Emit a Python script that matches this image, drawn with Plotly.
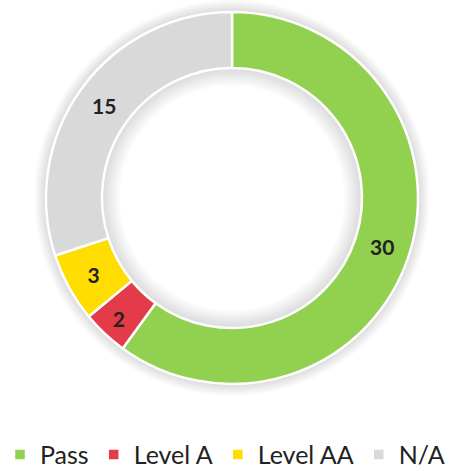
import plotly.graph_objects as go

labels = ["Pass", "Level A", "Level AA", "N/A"]
values = [30, 2, 3, 15]
colors = ["#92D050", "#E33B4A", "#FFDD00", "#D9D9D9"]

W, H = 450, 474
cx, cy, R, RIN = 232, 198, 186, 130


def dom(r):
    y0 = max(0.0, 1 - (cy + r) / H)
    y1 = min(1.0, 1 - (cy - r) / H)
    return dict(x=[(cx - r) / W, (cx + r) / W], y=[y0, y1])


fig = go.Figure()

# soft shadow rings (decorative)
n_layers = 12
for k in range(n_layers, 0, -1):
    ro = R + 1.0 * k
    ri = RIN - 1.5 * k
    fig.add_trace(go.Pie(
        labels=["shadow"], values=[sum(values)], hole=ri / ro, sort=False,
        marker=dict(colors=["rgba(0,0,0,0.011)"], line=dict(width=0)),
        textinfo="none", hoverinfo="skip", showlegend=False,
        domain=dom(ro),
    ))

fig.add_trace(go.Pie(
    labels=labels, values=values, sort=False, direction="clockwise",
    rotation=0, hole=RIN / R,
    marker=dict(colors=colors, line=dict(color="white", width=2.5)),
    textinfo="value", textposition="inside", insidetextorientation="horizontal",
    textfont=dict(family="Lato", size=21, color="#222222", weight="bold"),
    domain=dom(R),
    hoverinfo="label+value",
))
fig.update_layout(
    width=W, height=H, margin=dict(l=0, r=0, t=0, b=0, autoexpand=False),
    paper_bgcolor="white", plot_bgcolor="white",
    showlegend=True,
    legend=dict(orientation="h", x=0.5, xanchor="center", y=-0.008, yanchor="bottom",
                font=dict(family="Lato", size=25, color="#222222"),
                itemwidth=30, traceorder="normal"),
)
fig.write_html("out.html", post_script="document.body.style.margin='0';",
               config={"displayModeBar": False})
